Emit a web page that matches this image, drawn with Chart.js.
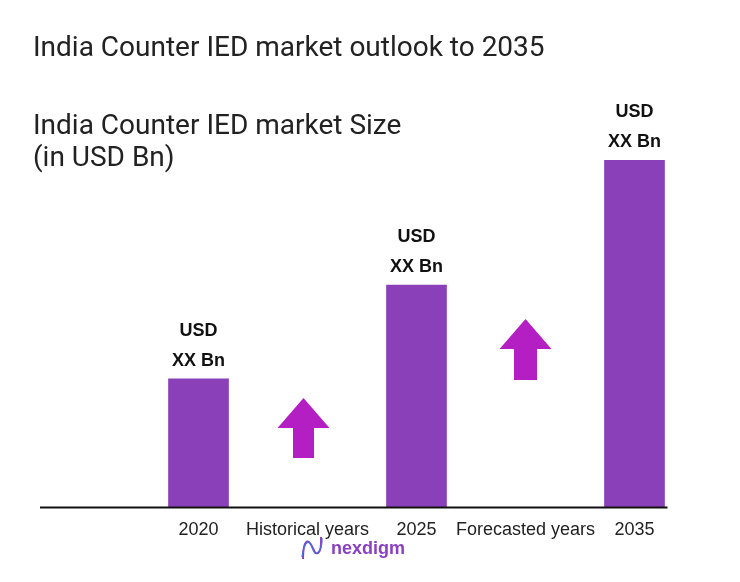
<!DOCTYPE html>
<html lang="en">
<head>
    <meta charset="UTF-8">
    <title>India Counter IED market outlook to 2035</title>
    <script src="https://cdn.jsdelivr.net/npm/chart.js@4.4.0/dist/chart.umd.min.js"></script>
    <style>
        body {
            margin: 0;
            padding: 0;
            background: #fff;
            font-family: 'Roboto', 'Liberation Sans', sans-serif;
            color: #222;
        }
        .wrap {
            position: relative;
            width: 740px;
            height: 582px;
            overflow: hidden;
        }
        .title, .subtitle {
            position: absolute;
            left: 33px;
            font-size: 28px;
            font-weight: 400;
            color: #222;
            margin: 0;
            line-height: 32px;
        }
        .title { top: 31px; }
        .subtitle { top: 109px; }
        .logo {
            position: absolute;
            left: 300px;
            top: 535px;
            display: flex;
            align-items: center;
            gap: 7px;
            color: #8a3fc4;
            font-family: 'Liberation Sans', sans-serif;
            font-weight: bold;
            font-size: 18px;
        }
        canvas { position: absolute; left: 0; top: 0; }
    </style>
</head>
<body>
<div class="wrap">
    <canvas id="marketChart" width="740" height="582"></canvas>
    <div class="title">India Counter IED market outlook to 2035</div>
    <div class="subtitle">India Counter IED market Size<br>(in USD Bn)</div>
    <div class="logo">
        <svg width="24" height="26" viewBox="0 0 24 26">
            <path d="M3 24 C3 10, 6 3, 10 8 S14 20, 18 18 S21 6, 21 2" fill="none" stroke="#8a3fc4" stroke-width="2"/>
            <path d="M2 22 C4 8, 8 4, 11 10 S15 22, 19 16 S22 5, 22 3" fill="none" stroke="#4a6fe0" stroke-width="1.2"/>
        </svg>
        <span>nexdigm</span>
    </div>
</div>

<script>
    // categories on the x axis (gap labels carry no bar)
    const categories = ['2020', 'Historical years', '2025', 'Forecasted years', '2035'];
    // relative market size (values shown as "XX")
    const marketSize = [3.7, null, 6.4, null, 10];
    const valueLabel = ['USD', 'XX Bn'];
    const growthArrows = ['Historical years', 'Forecasted years'];

    const barColor = '#8940b8';
    const arrowColor = '#b41fc4';

    // arrow shapes in pixels: tip y, head base y, shaft bottom y
    const arrowStyle = {
        'Historical years': { dx: -4, tip: 398, head: 428, bottom: 458, headW: 52, shaftW: 21 },
        'Forecasted years': { dx: 0, tip: 319, head: 349, bottom: 380, headW: 52, shaftW: 23 }
    };

    const extrasPlugin = {
        id: 'extras',
        afterDatasetsDraw(chart) {
            const ctx = chart.ctx;
            const x = chart.scales.x;
            const y = chart.scales.y;
            const meta = chart.getDatasetMeta(0);

            // value labels above bars
            ctx.save();
            ctx.fillStyle = '#111';
            ctx.font = "bold 18px 'Liberation Sans', Arial, sans-serif";
            ctx.textAlign = 'center';
            ctx.textBaseline = 'middle';
            let lastRight = 0;
            meta.data.forEach((bar, i) => {
                if (marketSize[i] === null) return;
                ctx.fillText(valueLabel[0], bar.x, bar.y - 48);
                ctx.fillText(valueLabel[1], bar.x, bar.y - 18);
                lastRight = Math.max(lastRight, bar.x + bar.width / 2);
            });
            ctx.restore();

            // growth arrows
            growthArrows.forEach(label => {
                const s = arrowStyle[label];
                const cx = x.getPixelForValue(categories.indexOf(label)) + s.dx;
                ctx.save();
                ctx.fillStyle = arrowColor;
                ctx.beginPath();
                ctx.moveTo(cx, s.tip);
                ctx.lineTo(cx + s.headW / 2, s.head);
                ctx.lineTo(cx + s.shaftW / 2, s.head);
                ctx.lineTo(cx + s.shaftW / 2, s.bottom);
                ctx.lineTo(cx - s.shaftW / 2, s.bottom);
                ctx.lineTo(cx - s.shaftW / 2, s.head);
                ctx.lineTo(cx - s.headW / 2, s.head);
                ctx.closePath();
                ctx.fill();
                ctx.restore();
            });

            // baseline
            const base = y.getPixelForValue(0);
            ctx.save();
            ctx.strokeStyle = '#111';
            ctx.lineWidth = 2;
            ctx.beginPath();
            ctx.moveTo(40, base);
            ctx.lineTo(lastRight + 3, base);
            ctx.stroke();
            ctx.restore();
        }
    };

    new Chart(document.getElementById('marketChart'), {
        type: 'bar',
        data: {
            labels: categories,
            datasets: [{
                data: marketSize,
                backgroundColor: barColor,
                barThickness: 60,
                skipNull: true
            }]
        },
        options: {
            responsive: false,
            animation: false,
            layout: {
                padding: { top: 160, left: 144, right: 51, bottom: 29 }
            },
            plugins: {
                legend: { display: false },
                tooltip: { enabled: false }
            },
            scales: {
                x: {
                    grid: { display: false, drawTicks: false },
                    border: { display: false },
                    ticks: {
                        color: '#222',
                        padding: 12,
                        maxRotation: 0,
                        autoSkip: false,
                        font: { family: "'Liberation Sans', Arial, sans-serif", size: 18 }
                    }
                },
                y: {
                    display: false,
                    min: 0,
                    max: 10
                }
            }
        },
        plugins: [extrasPlugin]
    });
</script>
</body>
</html>
